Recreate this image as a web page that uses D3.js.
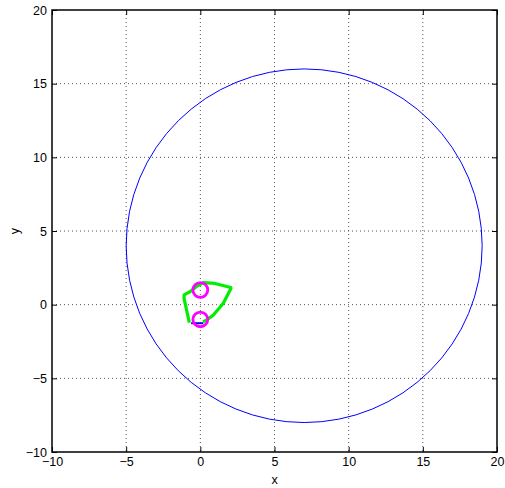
<!DOCTYPE html>
<html>
<head>
<meta charset="utf-8">
<script src="https://cdn.jsdelivr.net/npm/d3@7"></script>
<style>
  html, body { margin: 0; padding: 0; background: #fff; }
  svg { display: block; }
  text { font-family: "Liberation Sans", Arial, sans-serif; }
</style>
</head>
<body>
<svg id="chart" width="505" height="488"></svg>
<script>
// ---- data ----
const xDomain = [-10, 20];
const yDomain = [-10, 20];
const xTicks = [-10, -5, 0, 5, 10, 15, 20];
const yTicks = [-10, -5, 0, 5, 10, 15, 20];
const bigCircle = { cx: 7, cy: 4, r: 12 };
const smallCircles = [ { cx: 0, cy: 1, r: 0.5 }, { cx: 0, cy: -1, r: 0.5 } ];
const greenPathX = [-0.74, -1.10, -1.09, -0.69, -0.30, 0.20, 0.99, 2.05, 2.07, 1.55, 0.88, 0.43, 0.18];
const greenPathY = [-1.22, 0.43, 0.66, 0.88, 1.20, 1.49, 1.44, 1.17, 1.11, 0.10, -0.70, -1.04, -1.17];
const blueSegX = [-0.62, 0.20];
const blueSegY = [-1.26, -1.26];

// ---- layout ----
const svg = d3.select("#chart");
const L = 52, R = 497, T = 10, B = 452;
const x = d3.scaleLinear().domain(xDomain).range([L, R]);
const y = d3.scaleLinear().domain(yDomain).range([B, T]);
const fmt = d => (d < 0 ? "\u2212" + Math.abs(d) : "" + d);
const FS = 12.5;

// grid
const grid = svg.append("g");
xTicks.slice(1, -1).forEach(t => {
  grid.append("line").attr("x1", x(t)).attr("x2", x(t)).attr("y1", T).attr("y2", B)
    .attr("stroke", "#555").attr("stroke-width", 1).attr("stroke-dasharray", "1,3");
});
yTicks.slice(1, -1).forEach(t => {
  grid.append("line").attr("x1", L).attr("x2", R).attr("y1", y(t)).attr("y2", y(t))
    .attr("stroke", "#555").attr("stroke-width", 1).attr("stroke-dasharray", "1,3");
});

// axes (inward ticks, MATLAB style)
const tl = 5;
svg.append("g").attr("transform", `translate(0,${B})`)
  .call(d3.axisBottom(x).tickValues(xTicks).tickSize(-tl).tickPadding(5).tickFormat(fmt))
  .call(g => g.select(".domain").remove());
svg.append("g").attr("transform", `translate(0,${T})`)
  .call(d3.axisTop(x).tickValues(xTicks).tickSize(-tl).tickFormat(""))
  .call(g => g.select(".domain").remove());
svg.append("g").attr("transform", `translate(${L},0)`)
  .call(d3.axisLeft(y).tickValues(yTicks).tickSize(-tl).tickPadding(5).tickFormat(fmt))
  .call(g => g.select(".domain").remove());
svg.append("g").attr("transform", `translate(${R},0)`)
  .call(d3.axisRight(y).tickValues(yTicks).tickSize(-tl).tickFormat(""))
  .call(g => g.select(".domain").remove());
svg.selectAll(".tick text").attr("font-size", FS).attr("fill", "#000")
  .attr("font-family", "'Liberation Sans', Arial, sans-serif");
svg.selectAll(".tick line").attr("stroke", "#000");

// frame
svg.append("rect").attr("x", L).attr("y", T).attr("width", R - L).attr("height", B - T)
  .attr("fill", "none").attr("stroke", "#000").attr("stroke-width", 1.5);

// big blue circle
const kx = (x(1) - x(0)), ky = (y(0) - y(1));
svg.append("ellipse").attr("cx", x(bigCircle.cx)).attr("cy", y(bigCircle.cy))
  .attr("rx", bigCircle.r * kx).attr("ry", bigCircle.r * ky)
  .attr("fill", "none").attr("stroke", "#0000ff").attr("stroke-width", 1);

// blue segment
const line = d3.line().x(d => x(d[0])).y(d => y(d[1]));
svg.append("path").attr("d", line(d3.zip(blueSegX, blueSegY)))
  .attr("fill", "none").attr("stroke", "#0000ff").attr("stroke-width", 2);

// green path
svg.append("path").attr("d", line(d3.zip(greenPathX, greenPathY)))
  .attr("fill", "none").attr("stroke", "#00ee00").attr("stroke-width", 3.2)
  .attr("stroke-linejoin", "round");

// magenta circles
smallCircles.forEach(c => {
  svg.append("ellipse").attr("cx", x(c.cx)).attr("cy", y(c.cy))
    .attr("rx", c.r * kx).attr("ry", c.r * ky)
    .attr("fill", "none").attr("stroke", "#ff00ff").attr("stroke-width", 2.8);
});

// axis labels
svg.append("text").attr("x", (L + R) / 2).attr("y", 484).attr("text-anchor", "middle")
  .attr("font-size", FS).text("x");
svg.append("text").attr("transform", `translate(19,${(T + B) / 2}) rotate(-90)`)
  .attr("text-anchor", "middle").attr("font-size", FS).text("y");
</script>
</body>
</html>
